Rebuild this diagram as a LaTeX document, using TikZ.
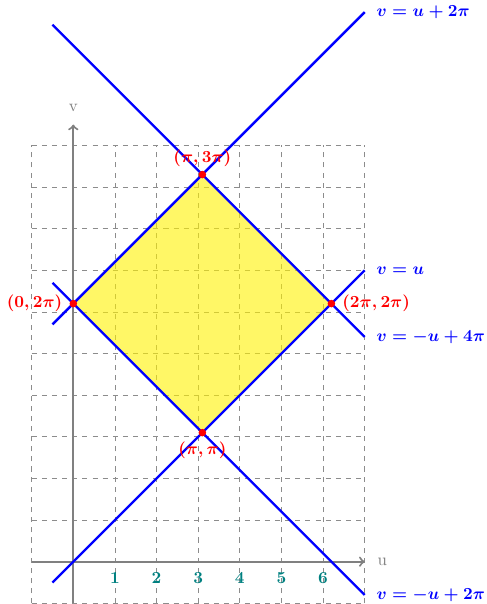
\documentclass[tikz,border=0pt]{standalone}
\begin{document}
\begin{tikzpicture}[scale=0.866,
  gridline/.style={gray!90, dashed, thin},
  axis/.style={gray, very thick, ->},
  curve/.style={blue, line width=1.4pt},
  curvelabel/.style={blue, right=3pt, font=\boldmath},
  dot/.style={circle, fill=red, inner sep=0pt, minimum size=4.5pt},
  ptlabel/.style={red, font=\boldmath},
  ticklabel/.style={teal, font=\bfseries},
  axlabel/.style={gray}]
\useasboundingbox (-1.761,-1.016) rectangle (9.914,13.493);
\draw[gridline] (-1,-1) grid (7,10);
\coordinate (A) at (0,6.2);
\coordinate (B) at (3.1,3.1);
\coordinate (C) at (6.2,6.2);
\coordinate (D) at (3.1,9.3);
\fill[yellow, opacity=0.6] (A) -- (B) -- (C) -- (D) -- cycle;
\coordinate (xs) at (-1,0);
\coordinate (xe) at (7,0);
\coordinate (ys) at (0,-1);
\coordinate (ye) at (0,10.5);
\draw[axis] (xs) -- (xe);
\draw[axis] (ys) -- (ye);
\node[axlabel] (ulabel) at (7.42,0) {u};
\node[axlabel] (vlabel) at (0,10.89) {v};
\foreach \i in {1,...,6} \node[ticklabel] (t\i) at (\i,-0.4) {\i};
\coordinate (L1s) at (-0.5,5.7);
\coordinate (L1e) at (7,13.2);
\coordinate (L2s) at (-0.5,12.9);
\coordinate (L2e) at (7,5.4);
\coordinate (L3s) at (-0.5,-0.5);
\coordinate (L3e) at (7,7);
\coordinate (L4s) at (-0.5,6.7);
\coordinate (L4e) at (7,-0.8);
\draw[curve] (L1s) -- (L1e) node[curvelabel] (n1) {$v=u+2\pi$};
\draw[curve] (L2s) -- (L2e) node[curvelabel] (n2) {$v=-u+4\pi$};
\draw[curve] (L3s) -- (L3e) node[curvelabel] (n3) {$v=u$};
\draw[curve] (L4s) -- (L4e) node[curvelabel] (n4) {$v=-u+2\pi$};
\node[dot] (pA) at (A) {};
\node[dot] (pB) at (B) {};
\node[dot] (pC) at (C) {};
\node[dot] (pD) at (D) {};
\node[ptlabel, left=3pt] (lA) at (A) {$(0,2\pi)$};
\node[ptlabel, below=2pt] (lB) at (B) {$(\pi,\pi)$};
\node[ptlabel, right=3pt] (lC) at (C) {$(2\pi,2\pi)$};
\node[ptlabel, above=1pt] (lD) at (D) {$(\pi,3\pi)$};
\end{tikzpicture}
\end{document}
